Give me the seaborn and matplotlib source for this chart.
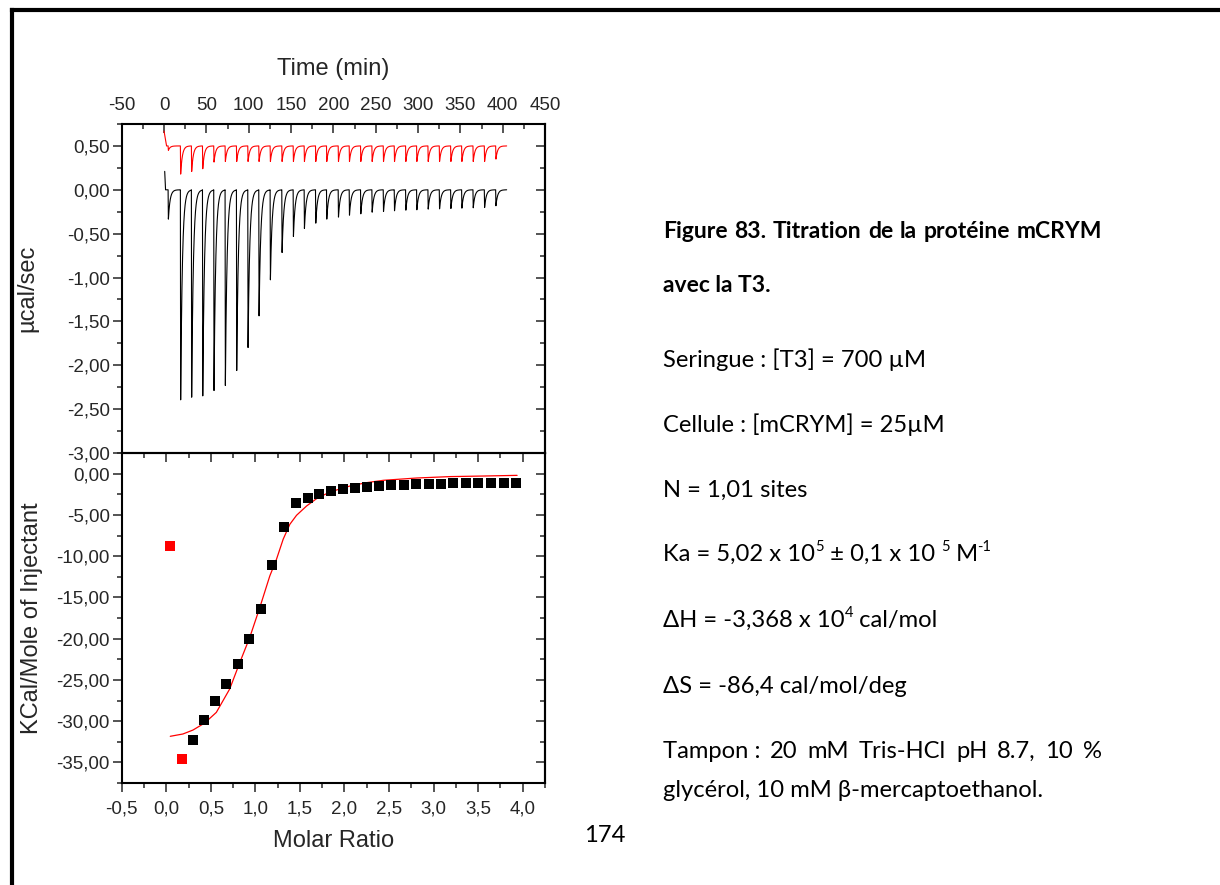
import numpy as np
import pandas as pd
import matplotlib
matplotlib.use("Agg")
import matplotlib.pyplot as plt
import seaborn as sns
from matplotlib.ticker import MultipleLocator, FuncFormatter
from matplotlib.lines import Line2D

# ---------------- data ----------------
# raw thermogram: injection times (min) and peak minima (µcal/sec)
inj_time = [4.8, 19.3, 32.3, 45.4, 58.7, 72.1, 85.5, 98.9, 111.9, 125.3,
            139.1, 152.5, 165.5, 178.9, 191.9, 205.7, 218.7, 232.1, 245.5, 258.9,
            271.9, 285.3, 298.3, 311.7, 325.1, 338.5, 351.5, 364.9, 378.3, 391.7]
black_peak = [-0.334, -2.394, -2.364, -2.349, -2.288, -2.231, -2.06, -1.798, -1.437, -1.026,
              -0.715, -0.532, -0.441, -0.38, -0.334, -0.311, -0.289, -0.274, -0.255, -0.247,
              -0.239, -0.232, -0.228, -0.22, -0.217, -0.213, -0.209, -0.205, -0.202, -0.182]
red_peak = [0.45, 0.179, 0.209, 0.240, 0.316, 0.323, 0.323, 0.323, 0.323, 0.323,
            0.323, 0.323, 0.323, 0.323, 0.323, 0.323, 0.323, 0.323, 0.323, 0.323,
            0.323, 0.323, 0.323, 0.323, 0.323, 0.323, 0.323, 0.323, 0.323, 0.35]
black_base = 0.0
red_base = 0.5
black_start_t = [0.8, 1.8]
black_start_v = [0.21, 0.0]
red_start_t = [0.0, 3.0]
red_start_v = [0.67, 0.50]
trace_end = 404.7

# integrated heats
mr_black = [0.296, 0.42, 0.547, 0.675, 0.806, 0.93, 1.061, 1.192, 1.323, 1.454,
            1.586, 1.717, 1.848, 1.987, 2.122, 2.257, 2.392, 2.527, 2.666, 2.805,
            2.943, 3.082, 3.221, 3.359, 3.498, 3.64, 3.786, 3.926]
heat_black = [-32.25, -29.9, -27.6, -25.55, -23.1, -20.1, -16.35, -11.06, -6.46, -3.6,
              -2.95, -2.47, -2.1, -1.86, -1.7, -1.57, -1.5, -1.38, -1.33, -1.3,
              -1.26, -1.21, -1.17, -1.14, -1.14, -1.14, -1.09, -1.09]
mr_red = [0.045, 0.172]
heat_red = [-8.76, -34.6]
fit_x = [0.045, 0.187, 0.3, 0.431, 0.562, 0.712, 0.825, 0.937, 1.05, 1.162,
         1.237, 1.312, 1.387, 1.462, 1.575, 1.687, 1.8, 1.912, 2.062, 2.25,
         2.437, 2.812, 3.187, 3.562, 3.937]
fit_y = [-31.84, -31.56, -31.08, -30.23, -28.94, -26.1, -22.9, -19.85, -16.22, -12.4,
         -10.38, -7.95, -6.14, -5.05, -3.92, -3.03, -2.42, -1.98, -1.5, -1.09,
         -0.81, -0.53, -0.36, -0.29, -0.21]

heading_words = ["Figure", "83.", "Titration", "de", "la", "protéine", "mCRYM"]
heading_line2 = "avec la T3."
tampon_words = ["Tampon :", "20", "mM", "Tris-HCl", "pH", "8.7,", "10", "%"]
tampon_line2 = "glycérol, 10 mM β-mercaptoethanol."


def build_trace(start_t, start_v, base, times, peaks, t_end, tau=2.0):
    t = list(start_t)
    v = list(start_v)
    for i, (ti, pk) in enumerate(zip(times, peaks)):
        t_next = times[i + 1] if i + 1 < len(times) else t_end
        t.append(ti); v.append(base)
        t.append(ti + 0.35); v.append(pk)
        s = np.arange(0.15, t_next - ti - 0.5, 0.15)
        t.extend(list(ti + 0.35 + s))
        v.extend(list(base + (pk - base) * np.exp(-s / tau)))
    t.append(t_end); v.append(base)
    return pd.DataFrame({"t": t, "v": v})


black_df = build_trace(black_start_t, black_start_v, black_base, inj_time, black_peak, trace_end)
red_df = build_trace(red_start_t, red_start_v, red_base, inj_time, red_peak, trace_end)

# ---------------- figure ----------------
W, H = 1220, 885
sns.set_style("white")
plt.rcParams["font.family"] = ["Liberation Sans", "DejaVu Sans"]
fig = plt.figure(figsize=(W / 100, H / 100), dpi=100)

ax1 = fig.add_axes([121.7 / W, 1 - 453 / H, 423.3 / W, 329 / H])
ax2 = fig.add_axes([121.7 / W, 1 - 783 / H, 423.3 / W, 330 / H])

sns.lineplot(data=red_df, x="t", y="v", ax=ax1, color="#ff0000", linewidth=0.8,
             estimator=None, sort=False)
sns.lineplot(data=black_df, x="t", y="v", ax=ax1, color="black", linewidth=0.8,
             estimator=None, sort=False)

sns.lineplot(x=fit_x, y=fit_y, ax=ax2, color="#ff0000", linewidth=0.9,
             estimator=None, sort=False)
sns.scatterplot(x=mr_black, y=heat_black, ax=ax2, marker="s", s=46, color="black",
                linewidth=0, zorder=3)
sns.scatterplot(x=mr_red, y=heat_red, ax=ax2, marker="s", s=46, color="#ff0000",
                linewidth=0, zorder=3)

TICK_FS = 13.5
LAB_FS = 17
MAJ, MIN = 6.5, 3.6
for ax in (ax1, ax2):
    for sp in ax.spines.values():
        sp.set_linewidth(1.5)
        sp.set_color("black")

# top panel
ax1.set_xlim(-50, 450)
ax1.set_ylim(-3.0, 0.75)
ax1.xaxis.set_major_locator(MultipleLocator(50))
ax1.xaxis.set_minor_locator(MultipleLocator(25))
ax1.xaxis.set_major_formatter(FuncFormatter(lambda v, p: f"{int(round(v))}"))
ax1.xaxis.tick_top()
ax1.xaxis.set_label_position("top")
ax1.tick_params(axis="x", which="both", direction="in", top=True, bottom=False,
                labeltop=True, labelbottom=False, labelsize=TICK_FS, pad=7, width=1.1)
ax1.tick_params(axis="x", which="major", length=MAJ)
ax1.tick_params(axis="x", which="minor", length=MIN)
ax1.yaxis.set_major_locator(MultipleLocator(0.5))
ax1.yaxis.set_minor_locator(MultipleLocator(0.25))
ax1.yaxis.set_major_formatter(FuncFormatter(lambda v, p: f"{v:.2f}".replace(".", ",")))
ax1.tick_params(axis="y", which="both", direction="out", left=True, right=False,
                labelsize=TICK_FS, pad=2, width=1.1)
ax1.tick_params(axis="y", which="major", length=MAJ)
ax1.tick_params(axis="y", which="minor", length=MIN)
ax1.set_xlabel("Time (min)", fontsize=LAB_FS, va="center")
ax1.xaxis.set_label_coords(0.5, (453 - 69) / 329)
ax1.set_ylabel("µcal/sec", fontsize=LAB_FS, va="center")
ax1.yaxis.set_label_coords(-0.222, 0.5)

r1 = ax1.secondary_yaxis("right")
r1.yaxis.set_major_locator(MultipleLocator(0.5))
r1.yaxis.set_minor_locator(MultipleLocator(0.25))
r1.tick_params(axis="y", which="both", direction="in", labelright=False, width=1.1)
r1.tick_params(axis="y", which="major", length=MAJ)
r1.tick_params(axis="y", which="minor", length=MIN)
r1.spines["right"].set_linewidth(1.5)

# bottom panel
ax2.set_xlim(-0.5, 4.25)
ax2.set_ylim(-37.5, 2.5)
ax2.xaxis.set_major_locator(MultipleLocator(0.5))
ax2.xaxis.set_minor_locator(MultipleLocator(0.25))
ax2.xaxis.set_major_formatter(FuncFormatter(lambda v, p: f"{v:.1f}".replace(".", ",")))
ax2.tick_params(axis="x", which="both", direction="out", bottom=True, top=False,
                labelsize=TICK_FS, pad=6, width=1.1)
ax2.tick_params(axis="x", which="major", length=MAJ)
ax2.tick_params(axis="x", which="minor", length=MIN)
ax2.yaxis.set_major_locator(MultipleLocator(5))
ax2.yaxis.set_minor_locator(MultipleLocator(2.5))
ax2.yaxis.set_major_formatter(FuncFormatter(lambda v, p: f"{v:.2f}".replace(".", ",")))
ax2.tick_params(axis="y", which="both", direction="out", left=True, right=False,
                labelsize=TICK_FS, pad=2, width=1.1)
ax2.tick_params(axis="y", which="major", length=MAJ)
ax2.tick_params(axis="y", which="minor", length=MIN)
ax2.set_xlabel("Molar Ratio", fontsize=LAB_FS, va="center")
ax2.xaxis.set_label_coords(0.5, (783 - 841) / 330)
ax2.set_ylabel("KCal/Mole of Injectant", fontsize=LAB_FS, va="center")
ax2.yaxis.set_label_coords(-0.213, 0.5)

t2 = ax2.secondary_xaxis("top")
t2.xaxis.set_major_locator(MultipleLocator(0.5))
t2.xaxis.set_minor_locator(MultipleLocator(0.25))
t2.tick_params(axis="x", which="both", direction="in", labeltop=False, width=1.1)
t2.tick_params(axis="x", which="major", length=MAJ)
t2.tick_params(axis="x", which="minor", length=MIN)
r2 = ax2.secondary_yaxis("right")
r2.yaxis.set_major_locator(MultipleLocator(5))
r2.yaxis.set_minor_locator(MultipleLocator(2.5))
r2.tick_params(axis="y", which="both", direction="in", labelright=False, width=1.1)
r2.tick_params(axis="y", which="major", length=MAJ)
r2.tick_params(axis="y", which="minor", length=MIN)
r2.spines["right"].set_linewidth(1.5)

# page border
fig.add_artist(Line2D([11.7 / W, 1.0], [1 - 10.3 / H, 1 - 10.3 / H], transform=fig.transFigure,
                      color="black", linewidth=3.0, solid_capstyle="projecting"))
fig.add_artist(Line2D([11.7 / W, 11.7 / W], [0.0, 1 - 10.3 / H], transform=fig.transFigure,
                      color="black", linewidth=3.0, solid_capstyle="projecting"))

# ---------------- text block ----------------
FAM = ["Lato", "Noto Sans", "DejaVu Sans"]
renderer = fig.canvas.get_renderer()


def text_w(s, size, weight="normal"):
    t = fig.text(0, 0, "x" + s + "x", fontsize=size, family=FAM, weight=weight)
    w1 = t.get_window_extent(renderer).width
    t.set_text("xx")
    w0 = t.get_window_extent(renderer).width
    t.remove()
    return w1 - w0


def put(x, y, s, size, weight="normal", ha="left"):
    fig.text(x / W, 1 - y / H, s, fontsize=size, family=FAM, weight=weight,
             ha=ha, va="baseline", color="black")


def rich(x, y, segs, size, weight="normal"):
    for s, sup in segs:
        fs = size * 0.62 if sup else size
        dy = size * 0.42 * 100 / 72 if sup else 0
        put(x, y - dy, s, fs, weight)
        x += text_w(s, fs, weight)


def justified(x0, x1, y, words, size, weight="normal"):
    ws = [text_w(w, size, weight) for w in words]
    gap = (x1 - x0 - sum(ws)) / (len(words) - 1)
    x = x0
    for w, wd in zip(words, ws):
        put(x, y, w, size, weight)
        x += wd + gap


FS = 10 * 262 / text_w("Seringue : [T3] = 700 µM", 10)
X0, X1 = 663, 1102
FS_HEAD = min(FS, 10 * (X1 - X0) / text_w(" ".join(heading_words) + " ", 10, "bold"))
justified(X0, X1, 238, heading_words, FS_HEAD, "bold")
put(X0, 292, heading_line2, FS_HEAD, "bold")
put(X0, 367, "Seringue : [T3] = 700 µM", FS)
put(X0, 432, "Cellule : [mCRYM] = 25µM", FS)
put(X0, 497, "N = 1,01 sites", FS)
rich(X0, 561, [("Ka = 5,02 x 10", False), ("5", True), (" ± 0,1 x 10 ", False),
               ("5", True), (" M", False), ("-1", True)], FS)
rich(X0, 627, [("ΔH = -3,368 x 10", False), ("4", True), (" cal/mol", False)], FS)
put(X0, 693, "ΔS = -86,4 cal/mol/deg", FS)
justified(X0, X1, 758, tampon_words, FS)
put(X0, 797, tampon_line2, FS)
put(605, 842, "174", FS, ha="center")

fig.savefig("out.png", dpi=100)
